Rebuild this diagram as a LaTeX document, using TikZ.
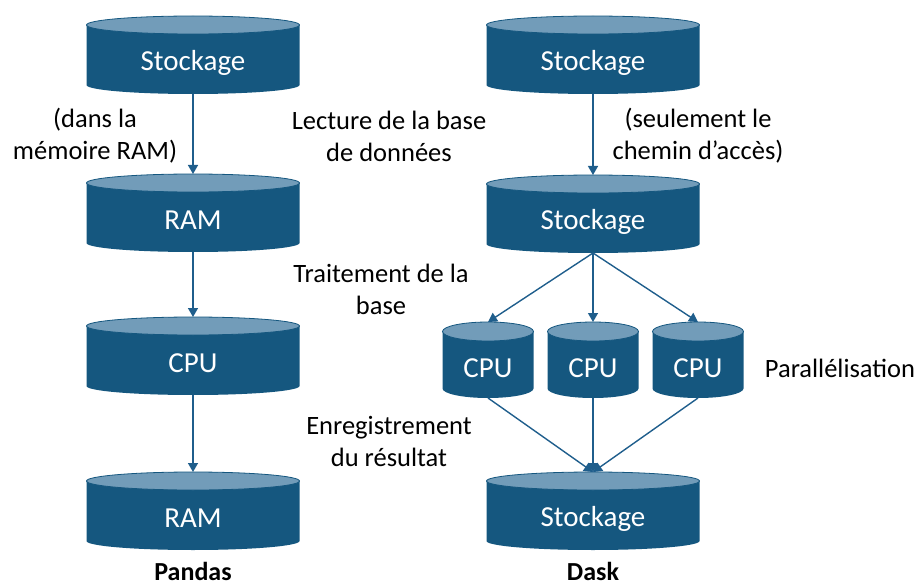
\documentclass[tikz,border=0pt]{standalone}
\usepackage{fontspec}
\setmainfont{Carlito}
\usetikzlibrary{arrows.meta}
\definecolor{cylbody}{HTML}{15577F}
\definecolor{cyltop}{HTML}{729CB9}
\definecolor{arrowc}{HTML}{1F5E8C}
\tikzset{
  body/.style={fill=cylbody},
  topc/.style={fill=cyltop, draw=cylbody, line width=0.8bp},
  cylframe/.style={rectangle, inner sep=0pt, outer sep=0pt},
  cyltext/.style={text=white, font=\fontsize{29bp}{34bp}\selectfont, inner sep=0pt},
  lbl/.style={align=center, font=\fontsize{26.5bp}{32bp}\selectfont, inner sep=0pt},
  ttl/.style={font=\fontsize{26bp}{30bp}\selectfont\bfseries, inner sep=0pt},
  conn/.style={draw=arrowc, line width=1.4bp, -{Triangle[width=10bp,length=9bp]}}
}
% name, cx, top y, rx, ry, total height, label
\newcommand\drumshape[7]{%
  \fill[body] (#2-#4,#3+#5) -- (#2-#4,#3+#6-#5)
     arc[start angle=180,end angle=360,x radius=#4bp,y radius=#5bp]
     -- (#2+#4,#3+#5) -- cycle;
  \filldraw[topc] (#2,#3+#5) ellipse[x radius=#4bp,y radius=#5bp];
  \node[cylframe, minimum width=2*#4 bp, minimum height=#6 bp] (#1) at (#2,#3+#6/2) {};
  \node[cyltext] (#1txt) at (#2,#3+46.5) {#7};
}
\begin{document}
\begin{tikzpicture}[x=1bp,y=-1bp]
\useasboundingbox (0,0) rectangle (919,586);
% left column
\drumshape{ls1}{193}{16}{106.5}{9}{78}{Stockage}
\drumshape{lr1}{193}{174}{106.5}{9}{78}{RAM}
\drumshape{lc}{193}{317}{106.5}{9}{78}{CPU}
\drumshape{lr2}{193}{472}{106.5}{9}{78}{RAM}
% right column
\drumshape{rs1}{593}{16}{106.5}{9}{78}{Stockage}
\drumshape{rs2}{593}{175}{106.5}{9}{78}{Stockage}
\drumshape{c1}{488}{322}{45.5}{9.5}{76}{CPU}
\drumshape{c2}{593}{322}{45.5}{9.5}{76}{CPU}
\drumshape{c3}{698}{322}{45.5}{9.5}{76}{CPU}
\drumshape{rs3}{593}{472}{106.5}{9}{78}{Stockage}
% connectors
\draw[conn] (ls1.south) -- (lr1.north);
\draw[conn] (lr1.south) -- (lc.north);
\draw[conn] (lc.south) -- (lr2.north);
\draw[conn] (rs1.south) -- (rs2.north);
\draw[conn] (rs2.south) -- (c1.north);
\draw[conn] (rs2.south) -- (c2.north);
\draw[conn] (rs2.south) -- (c3.north);
\draw[conn] (c1.south) -- (rs3.north);
\draw[conn] (c2.south) -- (rs3.north);
\draw[conn] (c3.south) -- (rs3.north);
% labels
\node[lbl] (l1) at (95,136) {(dans la\\mémoire RAM)};
\node[lbl] (l2) at (389,136) {Lecture de la base\\de données};
\node[lbl] (l3) at (698,136) {(seulement le\\chemin d’accès)};
\node[lbl] (l4) at (381,289) {Traitement de la\\base};
\node[lbl] (l5) at (840,368) {Parallélisation};
\node[lbl] (l6) at (389,441) {Enregistrement\\du résultat};
\node[ttl] (t1) at (193,571) {Pandas};
\node[ttl] (t2) at (593,571) {Dask};
\end{tikzpicture}
\end{document}
